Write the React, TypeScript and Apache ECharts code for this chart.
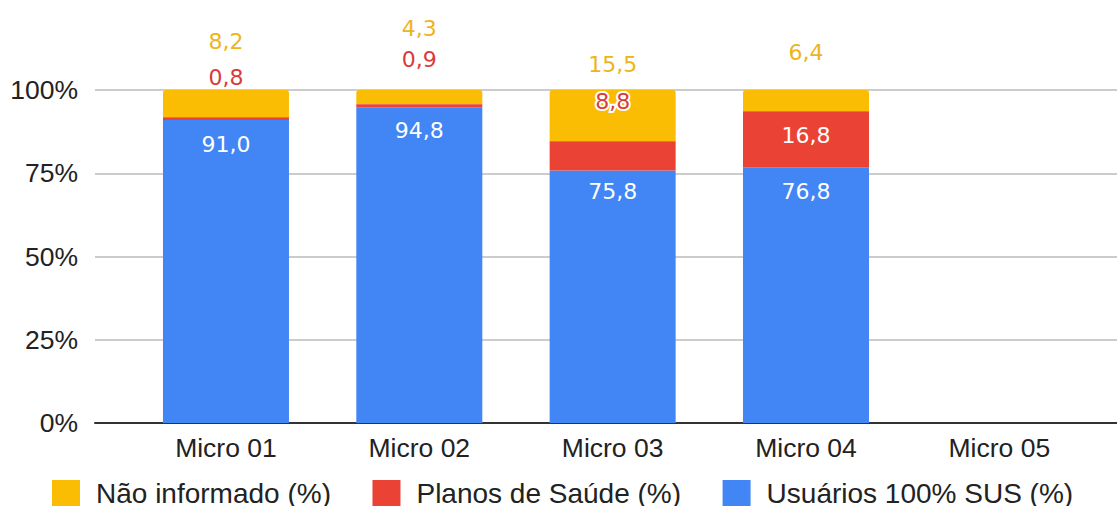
import React, { useEffect, useRef } from "react";
import * as echarts from "echarts";

const categories = ["Micro 01", "Micro 02", "Micro 03", "Micro 04", "Micro 05"];
const seriesNames = ["Não informado (%)", "Planos de Saúde (%)", "Usuários 100% SUS (%)"];
const susValues: (number | null)[] = [91.0, 94.8, 75.8, 76.8, null];
const planosValues: (number | null)[] = [0.8, 0.9, 8.8, 16.8, null];
const naoInformadoValues: (number | null)[] = [8.2, 4.3, 15.5, 6.4, null];

// label placement (pixels), mimicking the original annotation layout
const susLabelDistance = [14, 12, 10, 13, 0];
const planosLabelPosition = ["top", "top", "top", "insideTop", "top"];
const planosLabelDistance = [29, 34, 29, 13, 0];
const naoLabelDistance = [38, 51, 15, 27, 0];

const AXIS_FONT = "Liberation Sans";
const LABEL_FONT = "DejaVu Sans";
const BLUE = "#4285F4";
const RED = "#EA4335";
const YELLOW = "#FBBC04";

const fmt = (v: number | null) => (v == null ? "" : v.toFixed(1).replace(".", ","));

export default function App() {
  const ref = useRef<HTMLDivElement>(null);
  useEffect(() => {
    if (!ref.current) return;
    const chart = echarts.init(ref.current, undefined, { renderer: "svg" });

    const susData = susValues.map((v, i) => ({
      value: v,
      label: {
        show: v != null,
        position: "insideTop",
        distance: susLabelDistance[i],
        color: "#ffffff",
        fontSize: 22,
        fontFamily: LABEL_FONT,
        formatter: () => fmt(v),
      },
    }));
    const planosData = planosValues.map((v, i) => {
      const inside = planosLabelPosition[i] === "insideTop";
      return {
        value: v,
        label: {
          show: v != null,
          position: planosLabelPosition[i],
          distance: planosLabelDistance[i],
          color: inside ? "#ffffff" : "#D93B3B",
          textBorderColor: inside ? "transparent" : "#ffffff",
          textBorderWidth: inside ? 0 : 4,
          fontSize: 22,
          fontFamily: LABEL_FONT,
          formatter: () => fmt(v),
        },
      };
    });
    const naoData = naoInformadoValues.map((v, i) => ({
      value: v,
      label: {
        show: v != null,
        position: "top",
        distance: naoLabelDistance[i],
        color: "#EDB41C",
        fontSize: 22,
        fontFamily: LABEL_FONT,
        formatter: () => fmt(v),
      },
    }));

    chart.setOption({
      animation: false,
      backgroundColor: "#ffffff",
      textStyle: { fontFamily: AXIS_FONT },
      legend: {
        data: seriesNames,
        left: 47,
        top: 474,
        itemWidth: 28,
        itemHeight: 26,
        itemGap: 41.5,
        icon: "rect",
        textStyle: { fontSize: 28, color: "#222222", fontFamily: AXIS_FONT, padding: [0, 0, 0, 11] },
      },
      grid: [
        { left: 95, right: 0, top: 90, height: 333, containLabel: false },
        { left: 129.3, width: 966.7, top: 90, height: 333, containLabel: false },
      ],
      xAxis: [
        {
          gridIndex: 0,
          type: "category",
          data: [""],
          axisLine: { show: true, lineStyle: { color: "#333333", width: 2 } },
          axisTick: { show: false },
          axisLabel: { show: false },
          splitLine: { show: false },
        },
        {
          gridIndex: 1,
          type: "category",
          data: categories,
          axisLine: { show: false },
          axisTick: { show: false },
          axisLabel: { fontSize: 26.5, color: "#222222", fontFamily: AXIS_FONT, margin: 11 },
        },
      ],
      yAxis: [
        {
          gridIndex: 0,
          type: "value",
          min: 0,
          max: 100,
          interval: 25,
          axisLine: { show: false },
          axisTick: { show: false },
          axisLabel: { formatter: "{value}%", fontSize: 26.5, color: "#222222", fontFamily: AXIS_FONT, margin: 17 },
          splitLine: { show: true, lineStyle: { color: "#CCCCCC", width: 2 } },
        },
        {
          gridIndex: 1,
          type: "value",
          min: 0,
          max: 100,
          show: false,
          splitLine: { show: false },
        },
      ],
      series: [
        {
          name: seriesNames[2],
          type: "bar",
          xAxisIndex: 1,
          yAxisIndex: 1,
          stack: "total",
          barWidth: 126,
          itemStyle: { color: BLUE },
          data: susData,
          z: 2,
        },
        {
          name: seriesNames[1],
          type: "bar",
          xAxisIndex: 1,
          yAxisIndex: 1,
          stack: "total",
          barWidth: 126,
          itemStyle: { color: RED },
          data: planosData,
          z: 3,
        },
        {
          name: seriesNames[0],
          type: "bar",
          xAxisIndex: 1,
          yAxisIndex: 1,
          stack: "total",
          barWidth: 126,
          itemStyle: { color: YELLOW, borderRadius: [3, 3, 0, 0] },
          data: naoData,
          z: 2,
        },
      ],
    });
    return () => chart.dispose();
  }, []);
  return (
    <div
      ref={ref}
      style={{ position: "fixed", left: 0, top: 0, width: 1117, height: 506, background: "#fff" }}
    />
  );
}
